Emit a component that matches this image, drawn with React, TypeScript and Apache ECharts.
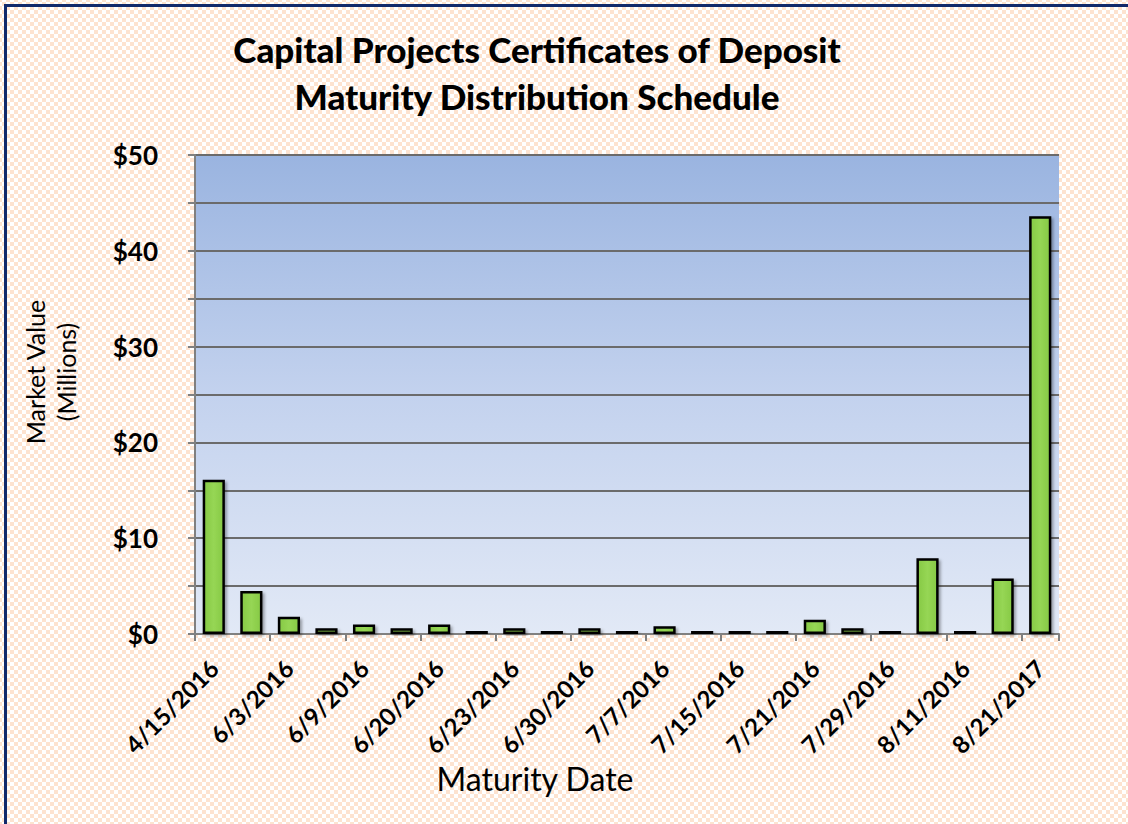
import React, { useEffect, useRef } from "react";
import * as echarts from "echarts";

const categories = [
  "4/15/2016", "5/26/2016", "6/3/2016", "6/7/2016", "6/9/2016", "6/16/2016",
  "6/20/2016", "6/22/2016", "6/23/2016", "6/27/2016", "6/30/2016", "7/5/2016",
  "7/7/2016", "7/12/2016", "7/15/2016", "7/19/2016", "7/21/2016", "7/26/2016",
  "7/29/2016", "8/4/2016", "8/11/2016", "8/18/2016", "8/21/2017",
];
const marketValues = [
  16.1, 4.5, 1.8, 0.6, 1.0, 0.6, 1.0, 0.1, 0.6, 0.1, 0.6, 0.1,
  0.8, 0.1, 0.3, 0.1, 1.5, 0.6, 0.3, 7.9, 0.05, 5.8, 43.6,
];
const yTicks = [0, 10, 20, 30, 40, 50];
const titleLines = ["Capital Projects Certificates of Deposit", "Maturity Distribution Schedule"];
const xAxisTitle = "Maturity Date";
const yAxisTitle = ["Market Value", "(Millions)"];

const FONT = "Lato, 'Open Sans', sans-serif";

export default function App() {
  const ref = useRef<HTMLDivElement>(null);
  useEffect(() => {
    if (!ref.current) return;
    const chart = echarts.init(ref.current, undefined, { renderer: "svg" });
    chart.setOption({
      animation: false,
      backgroundColor: "transparent",
      textStyle: { fontFamily: FONT },
      title: {
        text: titleLines.join("\n"),
        left: 532,
        top: 20,
        textAlign: "center",
        textStyle: { fontFamily: FONT, fontWeight: 900, fontSize: 35, lineHeight: 47, color: "#000" },
      },
      grid: {
        left: 195,
        right: 69,
        top: 155,
        bottom: 190,
        show: true,
        borderWidth: 0,
        backgroundColor: new echarts.graphic.LinearGradient(0, 0, 0, 1, [
          { offset: 0, color: "#9ab4e0" },
          { offset: 0.5, color: "#c3d2ee" },
          { offset: 1, color: "#e2e9f6" },
        ]),
      },
      xAxis: {
        type: "category",
        data: categories,
        axisLine: { lineStyle: { color: "#808080", width: 2 } },
        axisTick: { show: true, length: 7, lineStyle: { color: "#808080", width: 2 } },
        axisLabel: {
          interval: 1,
          rotate: 45,
          fontFamily: FONT,
          fontWeight: "bold",
          fontSize: 24,
          color: "#000",
          margin: 30,
        },
      },
      yAxis: {
        type: "value",
        min: 0,
        max: 50,
        interval: 5,
        axisLine: { show: true, lineStyle: { color: "#808080", width: 2 } },
        axisTick: { show: true, length: 7, lineStyle: { color: "#808080", width: 2 } },
        splitLine: { show: true, lineStyle: { color: "#6b6b6b", width: 2 } },
        axisLabel: {
          fontFamily: FONT,
          fontWeight: "bold",
          fontSize: 26,
          color: "#000",
          margin: 37,
          formatter: (v: number) => (yTicks.includes(v) ? "$" + v : ""),
        },
      },
      series: [
        {
          type: "bar",
          data: marketValues,
          barWidth: "59%",
          barMinHeight: 3,
          itemStyle: {
            color: new echarts.graphic.LinearGradient(0, 0, 1, 0, [
              { offset: 0, color: "#86c946" },
              { offset: 0.5, color: "#96d654" },
              { offset: 1, color: "#86c946" },
            ]),
            borderColor: "#000",
            borderWidth: 2.5,
            shadowColor: "rgba(0,0,0,0.35)",
            shadowBlur: 3,
            shadowOffsetX: 2,
            shadowOffsetY: 2,
          },
        },
      ],
      graphic: [
        {
          type: "rect",
          shape: { x: 5.5, y: 5.5, width: 1200, height: 900 },
          style: { fill: "none", stroke: "#11296b", lineWidth: 3 },
          silent: true,
        },
        {
          type: "text",
          x: 535,
          y: 778,
          style: {
            text: xAxisTitle,
            fontFamily: FONT,
            fontSize: 32,
            fill: "#000",
            align: "center",
            verticalAlign: "middle",
          },
        },
        {
          type: "text",
          x: 50,
          y: 372,
          rotation: Math.PI / 2,
          style: {
            text: yAxisTitle.join("\n"),
            fontFamily: FONT,
            fontSize: 25,
            lineHeight: 31,
            fill: "#000",
            align: "center",
            verticalAlign: "middle",
          },
        },
      ],
    });
    return () => chart.dispose();
  }, []);

  const bg: React.CSSProperties = {
    position: "fixed",
    left: 0,
    top: 0,
    width: 1128,
    height: 824,
    backgroundColor: "#ffffff",
    backgroundImage:
      "radial-gradient(#fde3d0 40%, transparent 42%), radial-gradient(#fde3d0 40%, transparent 42%)",
    backgroundSize: "8px 8px",
    backgroundPosition: "0 0, 4px 4px",
  };
  return (
    <div style={bg}>
      <div ref={ref} style={{ width: 1128, height: 824 }} />
    </div>
  );
}
